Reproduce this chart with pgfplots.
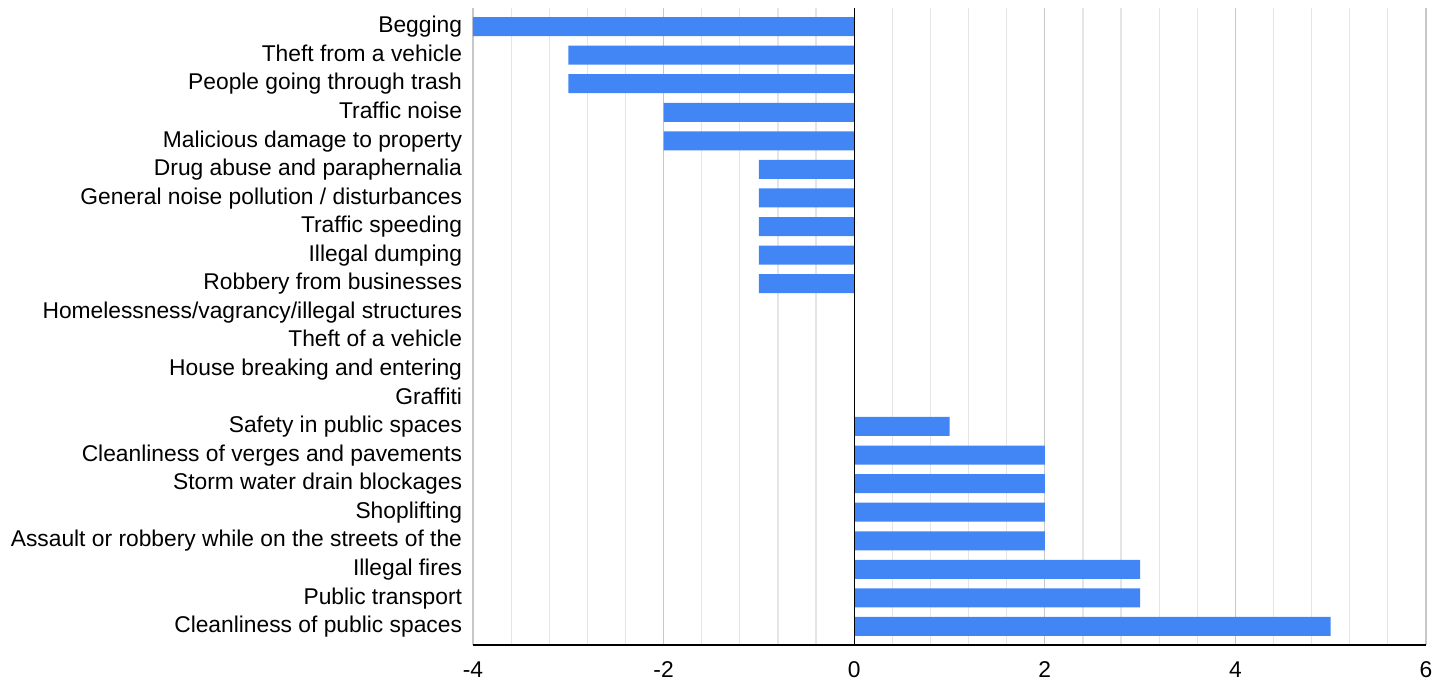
\documentclass[border=0pt]{standalone}
\usepackage{pgfplots}
\pgfplotsset{compat=1.18}
\usetikzlibrary{calc}
\usepackage{fontspec}
\setmainfont{Liberation Sans}
\definecolor{barblue}{HTML}{4285F4}
\begin{document}
\begin{tikzpicture}
\fontsize{11.4}{13}\selectfont
\begin{axis}[
  name=ax,
  scale only axis,
  width=476.5pt, height=318.5pt,
  xbar, bar width=9.5pt,
  xmin=-4, xmax=6,
  ymin=-0.65, ymax=21.65,
  y dir=reverse,
  xtick={-4,-2,0,2,4,6},
  minor x tick num=4,
  ytick={0,...,21},
  yticklabels={Begging,Theft from a vehicle,People going through trash,Traffic noise,Malicious damage to property,Drug abuse and paraphernalia,General noise pollution / disturbances,Traffic speeding,Illegal dumping,Robbery from businesses,Homelessness/vagrancy/illegal structures,Theft of a vehicle,House breaking and entering,Graffiti,Safety in public spaces,Cleanliness of verges and pavements,Storm water drain blockages,Shoplifting,Assault or robbery while on the streets of the,Illegal fires,Public transport,Cleanliness of public spaces},
  xmajorgrids, xminorgrids,
  major grid style={draw=black!22, line width=0.6pt},
  minor grid style={draw=black!10, line width=0.6pt},
  axis x line*=bottom, axis y line*=left,
  x axis line style={black, line width=0.6pt, -},
  y axis line style={draw=none},
  major tick length=0pt, minor tick length=0pt,
  tick style={draw=none},
  /pgf/number format/assume math mode=true,
  typeset ticklabels with strut,
  xticklabel style={font=\fontsize{11.4}{13}\selectfont, yshift=-3pt},
  yticklabel style={font=\fontsize{11.4}{13}\selectfont, xshift=-1.5pt, yshift=-0.5pt},
  clip=false,
]
\addplot[fill=barblue, draw=none] coordinates {
(-4,0) (-3,1) (-3,2) (-2,3) (-2,4) (-1,5) (-1,6) (-1,7) (-1,8) (-1,9)
(0,10) (0,11) (0,12) (0,13) (1,14) (2,15) (2,16) (2,17) (2,18) (3,19) (3,20) (5,21)};
\draw[black, line width=0.7pt] (axis cs:0,-0.65) -- (axis cs:0,21.65);
\end{axis}
\pgfresetboundingbox
\useasboundingbox ($(ax.south west)+(-236.5pt,-18pt)$) rectangle ($(ax.north east)+(4pt,4pt)$);
\end{tikzpicture}
\end{document}
